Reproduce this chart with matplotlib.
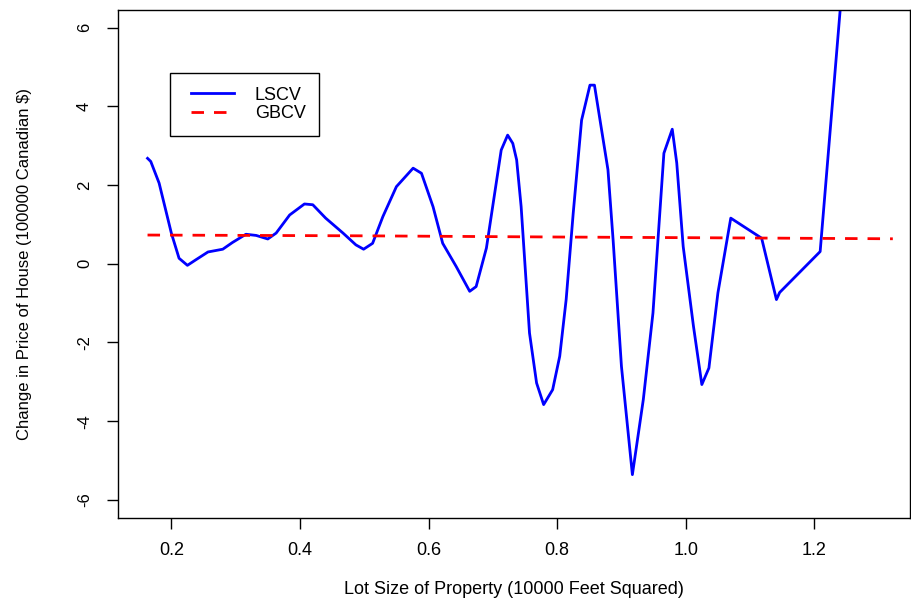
import matplotlib
matplotlib.use("Agg")
import matplotlib.pyplot as plt
from matplotlib.lines import Line2D
from matplotlib.legend_handler import HandlerLine2D

# LSCV curve
lscv_x = [0.163, 0.168, 0.181, 0.200, 0.212, 0.225, 0.238, 0.257, 0.280, 0.295,
          0.316, 0.332, 0.350, 0.363, 0.384, 0.407, 0.420, 0.440, 0.467, 0.487,
          0.499, 0.513, 0.529, 0.550, 0.576, 0.589, 0.607, 0.622, 0.643, 0.664,
          0.674, 0.690, 0.713, 0.723, 0.731, 0.737, 0.744, 0.757, 0.768, 0.779,
          0.793, 0.804, 0.814, 0.825, 0.838, 0.851, 0.858, 0.879, 0.887, 0.900,
          0.917, 0.934, 0.949, 0.966, 0.979, 0.986, 0.996, 1.012, 1.025, 1.036,
          1.050, 1.070, 1.118, 1.141, 1.146, 1.209, 1.250]
lscv_y = [2.68, 2.60, 2.05, 0.78, 0.14, -0.04, 0.10, 0.30, 0.37, 0.54,
          0.75, 0.72, 0.63, 0.78, 1.24, 1.52, 1.50, 1.16, 0.78, 0.48,
          0.37, 0.52, 1.20, 1.96, 2.43, 2.30, 1.45, 0.52, -0.07, -0.70,
          -0.58, 0.40, 2.89, 3.27, 3.06, 2.64, 1.45, -1.76, -3.03, -3.58,
          -3.20, -2.35, -0.91, 1.29, 3.65, 4.54, 4.54, 2.39, 0.61, -2.61,
          -5.36, -3.45, -1.25, 2.81, 3.42, 2.56, 0.44, -1.59, -3.07, -2.65,
          -0.74, 1.16, 0.65, -0.91, -0.73, 0.31, 8.4]

# GBCV curve (nearly flat)
gbcv_x = [0.163, 0.5, 0.8, 1.1, 1.322]
gbcv_y = [0.73, 0.71, 0.68, 0.655, 0.635]

xticks = [0.2, 0.4, 0.6, 0.8, 1.0, 1.2]
yticks = [-6, -4, -2, 0, 2, 4, 6]

plt.rcParams['font.family'] = ['Liberation Sans', 'DejaVu Sans']

fig = plt.figure(figsize=(9.12, 5.99), dpi=100)
ax = fig.add_axes([0.1297, 0.1347, 0.8683, 0.8486])

ax.plot(lscv_x, lscv_y, color='blue', lw=2.0, label='LSCV')
ax.plot(gbcv_x, gbcv_y, color='red', lw=2.0, dashes=(4.5, 3.6), label='GBCV')

ax.set_xlim(0.1175, 1.349)
ax.set_ylim(-6.47, 6.45)
ax.set_xticks(xticks)
ax.set_xticklabels(['%.1f' % v for v in xticks])
ax.set_yticks(yticks)
ax.set_yticklabels([str(v) for v in yticks], rotation=90, va='center')
ax.tick_params(axis='both', length=8, width=1)
ax.tick_params(axis='x', labelsize=13, pad=9)
ax.tick_params(axis='y', labelsize=12, pad=11)
for s in ax.spines.values():
    s.set_linewidth(1.0)

ax.set_xlabel('Lot Size of Property (10000 Feet Squared)', fontsize=13, labelpad=16)
ax.set_ylabel('Change in Price of House (100000 Canadian $)', fontsize=12, labelpad=32)

# legend: line samples are inset from the box edge, as in the original
leg = ax.legend(loc='upper left', bbox_to_anchor=(0.065, 0.876), fancybox=False,
                edgecolor='black', framealpha=1, fontsize=13, borderaxespad=0,
                handlelength=2.8, handletextpad=1.16, borderpad=0.75, labelspacing=0.08,
                handler_map={Line2D: HandlerLine2D(xpad=0.415)})
leg.get_frame().set_linewidth(1.0)

fig.savefig('out.png', dpi=100)
